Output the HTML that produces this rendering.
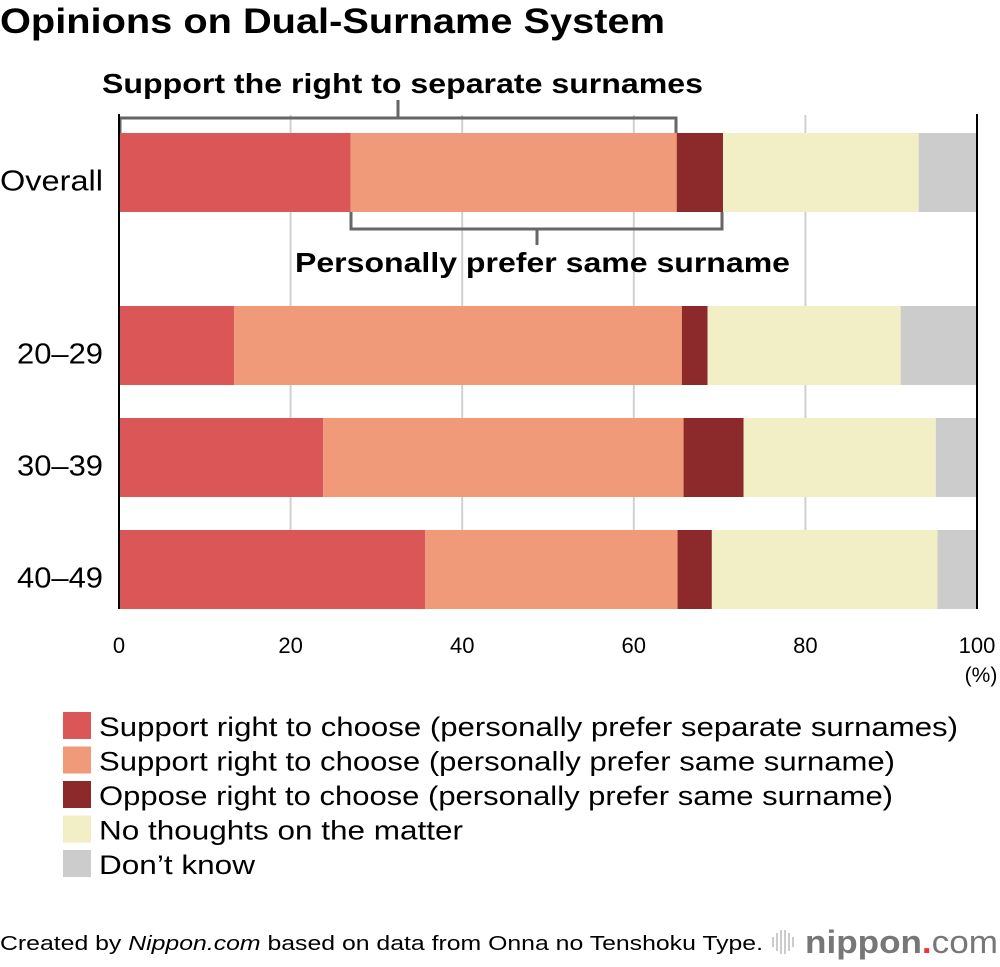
<!DOCTYPE html>
<html><head><meta charset="utf-8"><style>
body{margin:0;background:#fff;font-family:"Liberation Sans",sans-serif;}
svg text{font-family:"Liberation Sans",sans-serif;}
</style></head><body>
<svg id="chart" width="1000" height="962" xmlns="http://www.w3.org/2000/svg">
<text x="0" y="33" font-size="35" font-weight="bold" fill="#000" textLength="665" lengthAdjust="spacingAndGlyphs">Opinions on Dual-Surname System</text>
<g id="grid"></g>
<g id="bars"></g>
<g id="brackets" fill="none" stroke="#666" stroke-width="3">
<polyline points="120,133 120,118 676,118 676,133"/><line x1="398" y1="118" x2="398" y2="100"/>
<polyline points="351,212 351,229 722,229 722,212"/><line x1="537" y1="229" x2="537" y2="245"/>
</g>
<text x="102" y="93" font-size="28" font-weight="bold" textLength="601" lengthAdjust="spacingAndGlyphs">Support the right to separate surnames</text>
<text x="295" y="272" font-size="28" font-weight="bold" textLength="495" lengthAdjust="spacingAndGlyphs">Personally prefer same surname</text>
<g id="axes"></g>
<text x="981" y="682" font-size="21" text-anchor="middle">(%)</text>
<g id="legend"></g>
<text x="0" y="950" font-size="20" textLength="763" lengthAdjust="spacingAndGlyphs">Created by <tspan font-style="italic">Nippon.com</tspan> based on data from Onna no Tenshoku Type.</text>
<g>
<g stroke="#bbb" stroke-width="1.5"><line x1="773" y1="937" x2="773" y2="947"/><line x1="777" y1="933" x2="777" y2="951"/><line x1="781" y1="930" x2="781" y2="954"/><line x1="785" y1="930" x2="785" y2="954"/><line x1="789" y1="933" x2="789" y2="951"/><line x1="793" y1="937" x2="793" y2="947"/></g>
<text x="805" y="953" font-size="32" font-weight="bold" fill="#777" textLength="193" lengthAdjust="spacingAndGlyphs">nippon<tspan fill="#e33">.</tspan><tspan font-weight="normal">com</tspan></text>
</g>
</svg>
<script>
const categories=["Overall","20–29","30–39","40–49"];
const sepSupport=[27.0,13.4,23.8,35.7];
const sameSupport=[38.0,52.2,42.0,29.4];
const oppose=[5.4,3.0,7.0,4.0];
const noThoughts=[22.8,22.5,22.4,26.3];
const dontKnow=[6.8,8.9,4.8,4.6];
const tickLabels=["0","20","40","60","80","100"];
const tickValues=[0,20,40,60,80,100];
const seriesNames=["Support right to choose (personally prefer separate surnames)","Support right to choose (personally prefer same surname)","Oppose right to choose (personally prefer same surname)","No thoughts on the matter","Don’t know"];
const legendWidths=[859,796,794,364,156];
const labelWidths=[103,86,86,86];
const colors=["#db5656","#f19a7a","#8c2a2b","#f2eec6","#cccccc"];
const NS="http://www.w3.org/2000/svg";
const x=v=>119+v*8.58;
const rowY=[133,306,418,530], barH=79;
function mk(tag,attrs,parent){const e=document.createElementNS(NS,tag);for(const k in attrs)e.setAttribute(k,attrs[k]);parent.appendChild(e);return e;}
const grid=document.getElementById('grid'),bars=document.getElementById('bars'),axes=document.getElementById('axes'),legend=document.getElementById('legend');
tickValues.forEach((t,i)=>{
  if(t>0&&t<100){const l=mk('line',{x1:x(t),x2:x(t),y1:115,y2:609,stroke:'#d0d0d0','stroke-width':2},grid);
  
  }
  const tx=mk('text',{x:x(t),y:653,'font-size':22,'text-anchor':'middle'},axes);tx.textContent=tickLabels[i];
  
  
});
const series=[sepSupport,sameSupport,oppose,noThoughts,dontKnow];
categories.forEach((c,ci)=>{
  let acc=0;
  series.forEach((s,si)=>{
    const r=mk('rect',{x:x(acc),y:rowY[ci],width:x(acc+s[ci])-x(acc),height:barH,fill:colors[si]},bars);
    
    
    acc+=s[ci];
  });
  const t=mk('text',{x:103-labelWidths[ci],y:rowY[ci]+barH/2+18,'font-size':29,textLength:labelWidths[ci],lengthAdjust:'spacingAndGlyphs'},axes);t.textContent=c;
  
  
});
const a1=mk('line',{x1:119,x2:119,y1:114,y2:609,stroke:'#000','stroke-width':2},axes);


const a2=mk('line',{x1:977,x2:977,y1:114,y2:609,stroke:'#000','stroke-width':2},axes);


seriesNames.forEach((n,i)=>{
  const y0=712+i*34.5;
  const r=mk('rect',{x:63,y:y0,width:28,height:27,fill:colors[i]},legend);
  
  
  const t=mk('text',{x:99,y:y0+24,'font-size':27,textLength:legendWidths[i],lengthAdjust:'spacingAndGlyphs'},legend);t.textContent=n;
  
  
});
</script>
</body></html>
